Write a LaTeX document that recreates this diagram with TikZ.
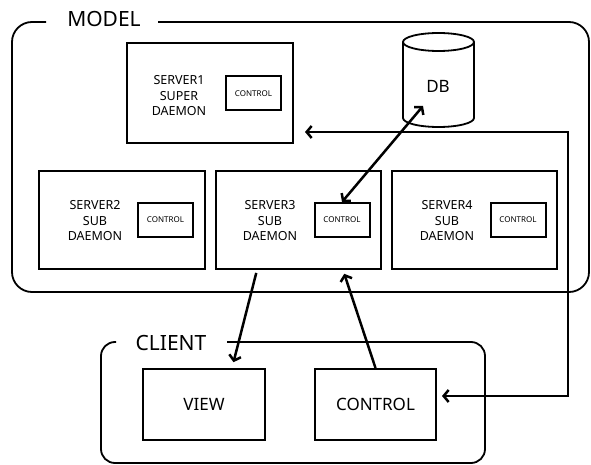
\documentclass[tikz,border=0pt]{standalone}
\usepackage{fontspec}
\setmainfont{Noto Sans}
\usetikzlibrary{arrows.meta}
\begin{document}
\begin{tikzpicture}[x=1pt,y=-1pt,
  frame/.style={line width=1.8pt, rounded corners=20pt},
  box/.style={draw, line width=2pt, inner sep=0pt},
  ctlbox/.style={draw, line width=2pt, inner sep=0pt, minimum width=55pt, minimum height=34pt, font=\fontsize{8}{9}\selectfont},
  srvtxt/.style={align=center, inner sep=0pt, font=\fontsize{12.5}{15.5}\selectfont},
  bigtxt/.style={inner sep=0pt, font=\fontsize{17}{20}\selectfont},
  title/.style={inner sep=0pt, font=\fontsize{21}{24}\selectfont},
  arr/.style={line width=2.5pt, arrows={-Straight Barb[length=5pt,width=12pt]}},
  darr/.style={line width=2.5pt, arrows={Straight Barb[length=5pt,width=12pt]-Straight Barb[length=5pt,width=12pt]}}
]
\useasboundingbox (0,0) rectangle (591,465);
% MODEL frame
\draw[frame] (158,22) -- (589,22) -- (589,292) -- (12,292) -- (12,22) -- (46,22);
\node[title] (modellbl) at (104,19) {MODEL};
% CLIENT frame
\draw[frame, rounded corners=14pt] (227,342) -- (485,342) -- (485,463) -- (101,463) -- (101,342) -- (116,342);
\node[title] (clientlbl) at (171,343) {CLIENT};
% Server1
\node[box, minimum width=166pt, minimum height=100pt] (s1) at (210,93) {};
\node[ctlbox] (s1ctl) at (253.5,93.5) {CONTROL};
\node[srvtxt] (s1txt) at (179,96) {SERVER1\\SUPER\\DAEMON};
% Server2
\node[box, minimum width=166pt, minimum height=98pt] (s2) at (122,220) {};
\node[ctlbox] (s2ctl) at (165.5,220) {CONTROL};
\node[srvtxt] (s2txt) at (95,221) {SERVER2\\SUB\\DAEMON};
% Server3
\node[box, minimum width=165pt, minimum height=98pt] (s3) at (298.5,220) {};
\node[ctlbox] (s3ctl) at (342,220) {CONTROL};
\node[srvtxt] (s3txt) at (270,221) {SERVER3\\SUB\\DAEMON};
% Server4
\node[box, minimum width=165pt, minimum height=98pt] (s4) at (474.5,220) {};
\node[ctlbox] (s4ctl) at (518,220) {CONTROL};
\node[srvtxt] (s4txt) at (447,221) {SERVER4\\SUB\\DAEMON};
% DB cylinder
\draw[line width=1.8pt] (403,42) -- (403,118) arc[start angle=180, end angle=0, x radius=35.5, y radius=9] -- (474,42);
\draw[line width=1.8pt] (438.5,42) ellipse[x radius=35.5, y radius=9];
\node[bigtxt, font=\fontsize{17}{19}\selectfont] (db) at (438,86) {DB};
% Client boxes
\node[box, minimum width=122pt, minimum height=71pt, bigtxt] (view) at (204,404.5) {VIEW};
\node[box, minimum width=121pt, minimum height=71pt, bigtxt] (ctl) at (375.5,404.5) {CONTROL};
% connectors
\coordinate (dbend) at (423,106);
\coordinate (s1p) at (305,132);
\coordinate (cp) at (442,396);
\draw[darr] (dbend) -- (s3ctl.north);
\draw[darr] (s1p) -- ++(263,0) |- (cp);
\draw[arr, shorten >=6pt, shorten <=3pt] ([xshift=-41.5pt]s3.south) -- ([xshift=28pt]view.north);
\draw[arr, shorten >=4pt] (ctl.north) -- ([xshift=44.5pt]s3.south);
\end{tikzpicture}
\end{document}
